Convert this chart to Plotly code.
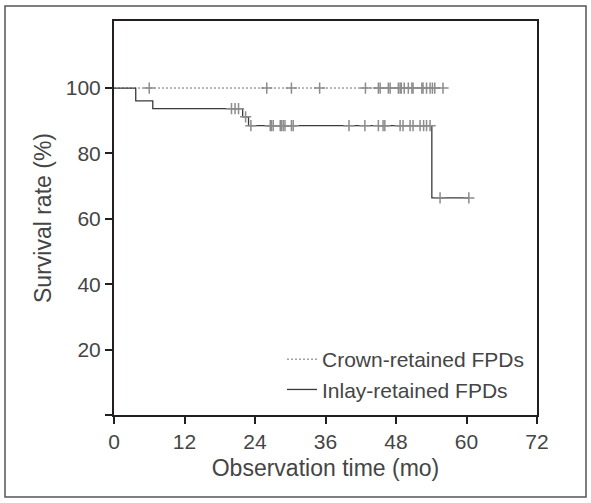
import numpy as np
import plotly.graph_objects as go

# ---- data ----
crown_times = [0, 56.0]
crown_surv = [100, 100]
crown_censor = [6.0, 26.0, 30.2, 35.0, 42.8, 45.0, 45.3, 46.7, 47.0, 48.4, 48.7,
                48.9, 49.4, 50.1, 50.7, 50.9, 52.4, 52.6, 53.2, 53.8, 54.2, 54.6, 56.0]

inlay_times = [0, 3.7, 6.6, 21.9, 22.9, 54.1, 60.4]
inlay_surv = [100, 96.1, 93.7, 91.2, 88.5, 66.4, 66.4]
inlay_censor = [20.0, 20.6, 21.2, 22.4, 23.3, 26.6, 26.8, 27.1, 28.3, 28.5, 28.8,
                29.1, 30.2, 30.5, 40.0, 42.7, 45.0, 45.8, 46.1, 48.7, 49.2, 50.4,
                50.9, 52.1, 52.7, 53.2, 53.8, 55.5, 60.4]

x_ticks = [0, 12, 24, 36, 48, 60, 72]
y_ticks = [20, 40, 60, 80, 100]


def step_value(times, surv, t):
    idx = np.searchsorted(np.array(times), t, side="right") - 1
    return [surv[i] for i in idx]


FONT = "Liberation Sans"
TXT = "#454545"
AX = "#231f20"
CENS = "#8c8c8c"

fig = go.Figure()
fig.add_trace(go.Scatter(x=crown_times, y=crown_surv, mode="lines", line_shape="hv",
                         line=dict(color="#707070", width=1, dash="2px,2px"),
                         name="Crown-retained FPDs", legendgroup="a"))
fig.add_trace(go.Scatter(x=inlay_times, y=inlay_surv, mode="lines", line_shape="hv",
                         line=dict(color="#3a3a3a", width=1.3),
                         name="Inlay-retained FPDs", legendgroup="b"))
for ct, tt, ss in [(crown_censor, crown_times, crown_surv),
                   (inlay_censor, inlay_times, inlay_surv)]:
    fig.add_trace(go.Scatter(x=ct, y=step_value(tt, ss, ct),
                             mode="markers", showlegend=False,
                             marker=dict(symbol="cross-thin-open", size=8, color=CENS,
                                         line=dict(color=CENS, width=1.5))))

axis_common = dict(showgrid=False, zeroline=False, showline=True, linecolor=AX,
                   linewidth=2, mirror=True, ticks="outside", ticklen=7, tickwidth=2,
                   tickcolor=AX, automargin=False,
                   tickfont=dict(family=FONT, size=21, color=TXT))

fig.update_xaxes(range=[0, 72], tickvals=x_ticks, ticktext=[str(v) for v in x_ticks],
                 title=dict(text="Observation time (mo)", standoff=8,
                            font=dict(family=FONT, size=23, color=TXT)),
                 **axis_common)
fig.update_yaxes(range=[0, 120.5], tickvals=[0] + y_ticks,
                 ticktext=[""] + [str(v) for v in y_ticks],
                 title=dict(text="Survival rate (%)", standoff=8,
                            font=dict(family=FONT, size=23, color=TXT)),
                 **axis_common)

# outer frame around the whole figure
fig.add_shape(type="rect", xref="paper", yref="paper",
              x0=(5 - 114) / 423, x1=(586 - 114) / 423,
              y0=(415 - 497) / 394, y1=(415 - 6) / 394,
              line=dict(color="#555555", width=1.5), layer="below")

fig.update_layout(
    width=591, height=503,
    margin=dict(l=114, r=54, t=21, b=88, autoexpand=False),
    plot_bgcolor="white", paper_bgcolor="white",
    font=dict(family=FONT, size=21, color=TXT),
    legend=dict(x=(282 - 114) / 423, xanchor="left", y=(415 - 339) / 394, yanchor="top",
                bgcolor="rgba(0,0,0,0)", borderwidth=0, tracegroupgap=0,
                font=dict(family=FONT, size=21, color=TXT)),
)

fig.write_html("out.html", config={"displayModeBar": False},
               post_script="document.body.style.margin='0';document.body.style.overflow='hidden';")
